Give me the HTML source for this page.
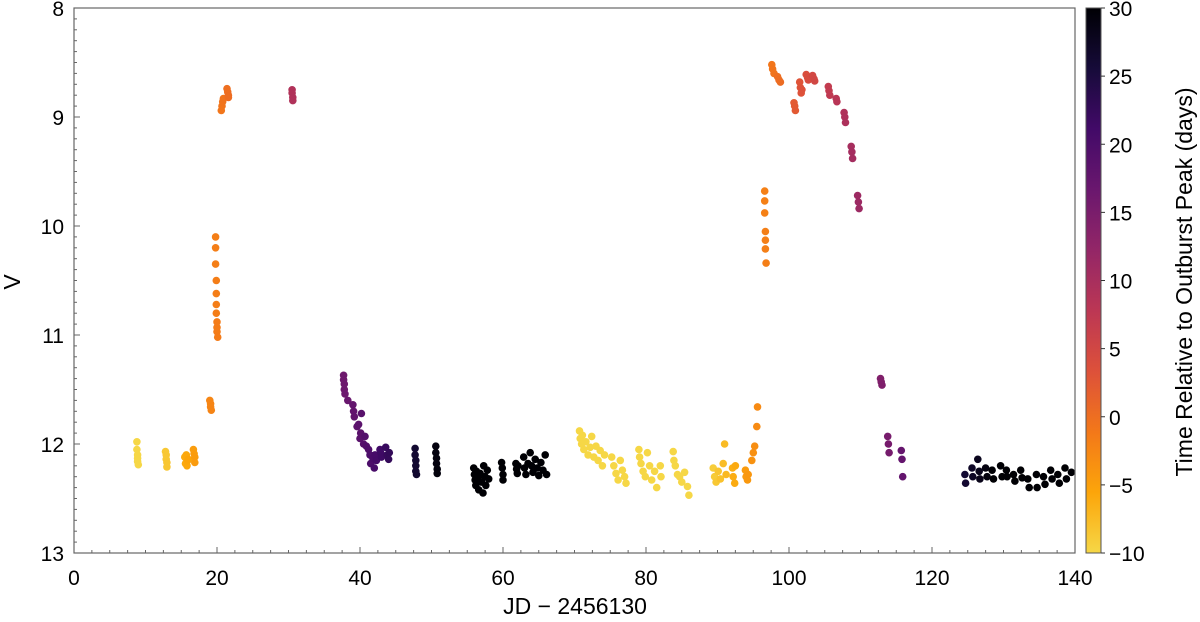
<!DOCTYPE html>
<html><head><meta charset="utf-8">
<style>
html,body{margin:0;padding:0;background:#fff;}
svg{display:block;font-family:"Liberation Sans","DejaVu Sans",sans-serif;}
</style></head>
<body>
<svg id="chart" width="1200" height="622" viewBox="0 0 1200 622" xmlns="http://www.w3.org/2000/svg">
<defs>
<linearGradient id="cbgrad" x1="0" y1="1" x2="0" y2="0">
<stop offset="0" stop-color="#f6d746"/>
<stop offset="0.111" stop-color="#fca50a"/>
<stop offset="0.222" stop-color="#f37819"/>
<stop offset="0.333" stop-color="#dd513a"/>
<stop offset="0.444" stop-color="#bc3754"/>
<stop offset="0.556" stop-color="#932667"/>
<stop offset="0.667" stop-color="#6a176e"/>
<stop offset="0.778" stop-color="#420a68"/>
<stop offset="0.889" stop-color="#160b39"/>
<stop offset="1" stop-color="#000004"/>
</linearGradient>
</defs>
<g id="points"></g>
<g id="axes"></g>
<rect x="1086" y="8" width="15" height="545" fill="url(#cbgrad)" stroke="#555" stroke-width="1"/>
<g id="cbticks"></g>
<text x="20" y="282" font-size="23" text-anchor="middle" transform="rotate(-90 20 282)">V</text>
<text x="575" y="614" font-size="23" text-anchor="middle">JD − 2456130</text>
<text x="1192" y="282" font-size="23" text-anchor="middle" transform="rotate(-90 1192 282)">Time Relative to Outburst Peak (days)</text>
</svg>
<script>
const jd = [
8.8,8.8,8.9,8.9,8.9,9.0,
12.8,12.9,12.9,13.0,13.0,
15.5,15.6,15.7,15.8,15.9,16.0,16.7,16.8,16.9,16.9,
19.0,19.1,19.1,19.2,
19.8,19.8,19.8,19.9,19.9,19.9,19.9,20.0,20.0,20.0,20.1,
20.6,20.7,20.8,20.9,21.4,21.5,21.6,21.6,
30.5,30.5,30.6,30.6,
37.7,37.7,37.8,37.8,37.9,38.3,39.0,39.1,39.2,39.6,39.8,40.0,40.1,40.2,40.5,40.7,40.9,41.2,41.4,41.5,41.8,42.0,42.1,42.3,42.8,42.9,43.0,43.6,43.8,44.0,44.1,
47.7,47.7,47.8,47.8,47.8,47.9,
50.6,50.6,50.7,50.7,50.8,50.8,
55.9,56.0,56.1,56.2,56.3,56.5,56.6,56.8,57.0,57.2,57.3,57.5,57.6,57.8,58.0,
59.8,59.9,60.0,60.0,61.8,61.9,62.0,62.1,62.9,63.0,63.2,63.5,63.8,64.0,64.2,64.5,64.8,65.0,65.3,65.6,65.9,66.1,
70.7,70.8,71.0,71.1,71.3,71.6,71.9,72.2,72.4,72.7,73.0,73.3,73.6,73.9,74.2,
75.2,75.5,75.8,76.1,76.4,76.7,77.0,77.2,
79.0,79.1,79.3,79.6,79.9,80.2,80.5,80.8,81.2,81.5,82.0,82.1,
83.8,83.9,84.1,84.4,84.7,85.0,85.4,85.8,86.0,
89.4,89.6,89.8,90.1,90.4,90.8,91.0,91.2,92.1,92.2,92.4,92.5,
93.9,94.0,94.2,94.3,94.8,95.0,95.2,95.5,95.6,
96.6,96.6,96.6,96.7,96.7,96.7,96.8,
97.6,97.7,97.9,98.4,98.6,98.8,
100.7,100.8,100.9,101.5,101.6,101.7,101.8,102.4,102.6,102.7,103.3,103.5,103.6,
105.5,105.6,105.7,106.6,106.7,107.7,107.8,107.9,108.7,108.8,108.9,109.6,109.7,109.8,
112.8,112.9,113.0,113.8,113.9,114.0,115.7,115.8,115.9,
124.6,124.7,125.6,125.7,126.4,126.6,126.7,127.5,127.7,128.4,128.6,129.6,129.8,130.4,130.5,131.4,131.6,132.4,132.6,133.4,133.6,134.6,134.7,135.6,135.8,136.6,136.8,137.6,137.8,138.6,138.8,139.5
];
const mag = [
11.98,12.05,12.1,12.13,12.16,12.19,
12.07,12.1,12.14,12.17,12.21,
12.12,12.18,12.1,12.2,12.15,12.14,12.05,12.09,12.12,12.17,
11.6,11.63,11.66,11.69,
10.1,10.2,10.35,10.5,10.62,10.72,10.8,10.88,10.93,10.97,11.02,
8.94,8.9,8.86,8.83,8.74,8.77,8.8,8.82,
8.75,8.78,8.82,8.85,
11.37,11.41,11.45,11.5,11.54,11.6,11.64,11.7,11.75,11.84,11.82,11.95,11.9,11.72,12.0,11.93,12.02,12.05,12.1,12.18,12.13,12.22,12.1,12.15,12.05,12.08,12.12,12.03,12.1,12.14,12.08,
12.04,12.1,12.15,12.2,12.25,12.28,
12.02,12.08,12.13,12.18,12.23,12.27,
12.22,12.28,12.33,12.38,12.25,12.31,12.42,12.27,12.35,12.45,12.2,12.3,12.38,12.24,12.32,
12.17,12.22,12.28,12.33,12.18,12.23,12.27,12.2,12.12,12.22,12.28,12.18,12.08,12.2,12.26,12.14,12.22,12.29,12.17,12.24,12.1,12.28,
11.88,11.95,12.0,11.92,12.05,11.98,12.1,12.03,11.93,12.12,12.02,12.15,12.06,12.2,12.1,
12.12,12.2,12.27,12.33,12.15,12.24,12.3,12.36,
12.05,12.12,12.18,12.25,12.3,12.08,12.2,12.33,12.25,12.4,12.2,12.3,
12.07,12.15,12.2,12.28,12.3,12.35,12.26,12.39,12.47,
12.22,12.3,12.35,12.25,12.32,12.18,12.0,12.28,12.22,12.3,12.36,12.2,
12.24,12.3,12.33,12.28,12.15,12.08,12.02,11.84,11.66,
9.68,9.77,9.88,10.05,10.13,10.21,10.34,
8.52,8.56,8.6,8.63,8.66,8.68,
8.87,8.9,8.94,8.68,8.73,8.78,8.75,8.61,8.64,8.66,8.62,8.65,8.67,
8.72,8.76,8.8,8.83,8.86,8.96,9.0,9.05,9.27,9.32,9.38,9.72,9.78,9.84,
11.4,11.43,11.46,11.93,12.0,12.08,12.06,12.14,12.3,
12.28,12.36,12.22,12.3,12.14,12.25,12.32,12.22,12.3,12.24,12.32,12.2,12.3,12.24,12.3,12.28,12.34,12.24,12.31,12.32,12.4,12.28,12.4,12.3,12.37,12.24,12.32,12.28,12.36,12.22,12.32,12.26
];
const peaks = [21.5, 98.5];
const peakSwitch = [68];
const cbTicks = [-10,-5,0,5,10,15,20,25,30];
const xTicks = [0,20,40,60,80,100,120,140];
const yTicks = [8,9,10,11,12,13];

const X0=74,X1=1075,Y0=8,Y1=553;
const xs = v => X0 + (v-0)/(140-0)*(X1-X0);
const ys = v => Y0 + (v-8)/(13-8)*(Y1-Y0);
const cs = v => Y1 - (v+10)/40*(Y1-Y0);
const stops=[[0,"#000004"],[0.1,"#160b39"],[0.2,"#420a68"],[0.3,"#6a176e"],[0.4,"#932667"],[0.5,"#bc3754"],[0.6,"#dd513a"],[0.7,"#f37819"],[0.8,"#fca50a"],[0.9,"#f6d746"]];
function hex(h){return [1,3,5].map(i=>parseInt(h.substr(i,2),16));}
function color(t){
  t=Math.max(-10,Math.min(30,t));
  const f=0.9*(30-t)/40;
  let i=0; while(i<stops.length-2 && f>stops[i+1][0]) i++;
  const a=stops[i],b=stops[i+1];
  const u=Math.max(0,Math.min(1,(f-a[0])/(b[0]-a[0])));
  const ca=hex(a[1]),cb=hex(b[1]);
  return "rgb("+ca.map((c,k)=>Math.round(c+(cb[k]-c)*u)).join(",")+")";
}
const NS="http://www.w3.org/2000/svg";
function mk(tag,attrs,parent){const e=document.createElementNS(NS,tag);for(const k in attrs)e.setAttribute(k,attrs[k]);parent.appendChild(e);return e;}
const gp=document.getElementById("points");
for(let i=0;i<jd.length;i++){
  const p = jd[i] < peakSwitch[0] ? peaks[0] : peaks[1];
  const c=mk("circle",{cx:xs(jd[i]).toFixed(1),cy:ys(mag[i]).toFixed(1),r:3.8,fill:color(jd[i]-p)},gp);
  
  
}
const ga=document.getElementById("axes");
const frame=mk("rect",{x:X0,y:Y0,width:X1-X0,height:Y1-Y0,fill:"none",stroke:"#666","stroke-width":1.2},ga);


for(let v=0;v<=140.01;v+=2.5){
  const maj=xTicks.includes(Math.round(v*10)/10);
  mk("line",{x1:xs(v),x2:xs(v),y1:Y1,y2:Y1-(maj?6:3),stroke:"#666","stroke-width":1},ga);
}
for(let v=8;v<=13.001;v+=0.1){
  const maj=Math.abs(v-Math.round(v))<1e-6;
  mk("line",{x1:X0,x2:X0+(maj?6:3),y1:ys(v),y2:ys(v),stroke:"#666","stroke-width":1},ga);
}
xTicks.forEach(v=>{
  const t=mk("text",{x:xs(v),y:585,"font-size":21,"text-anchor":"middle"},ga);
  t.textContent=v;
  
  
});
yTicks.forEach(v=>{
  const t=mk("text",{x:64,y:ys(v)+8,"font-size":21,"text-anchor":"end"},ga);
  t.textContent=v;
  
  
});
const gc=document.getElementById("cbticks");
cbTicks.forEach(v=>{
  mk("line",{x1:1101,x2:1105,y1:cs(v),y2:cs(v),stroke:"#333","stroke-width":1},gc);
  const t=mk("text",{x:1109,y:cs(v)+8,"font-size":21},gc);
  t.textContent=v<0?"−"+(-v):v;
  
  
});
</script>
</body></html>
